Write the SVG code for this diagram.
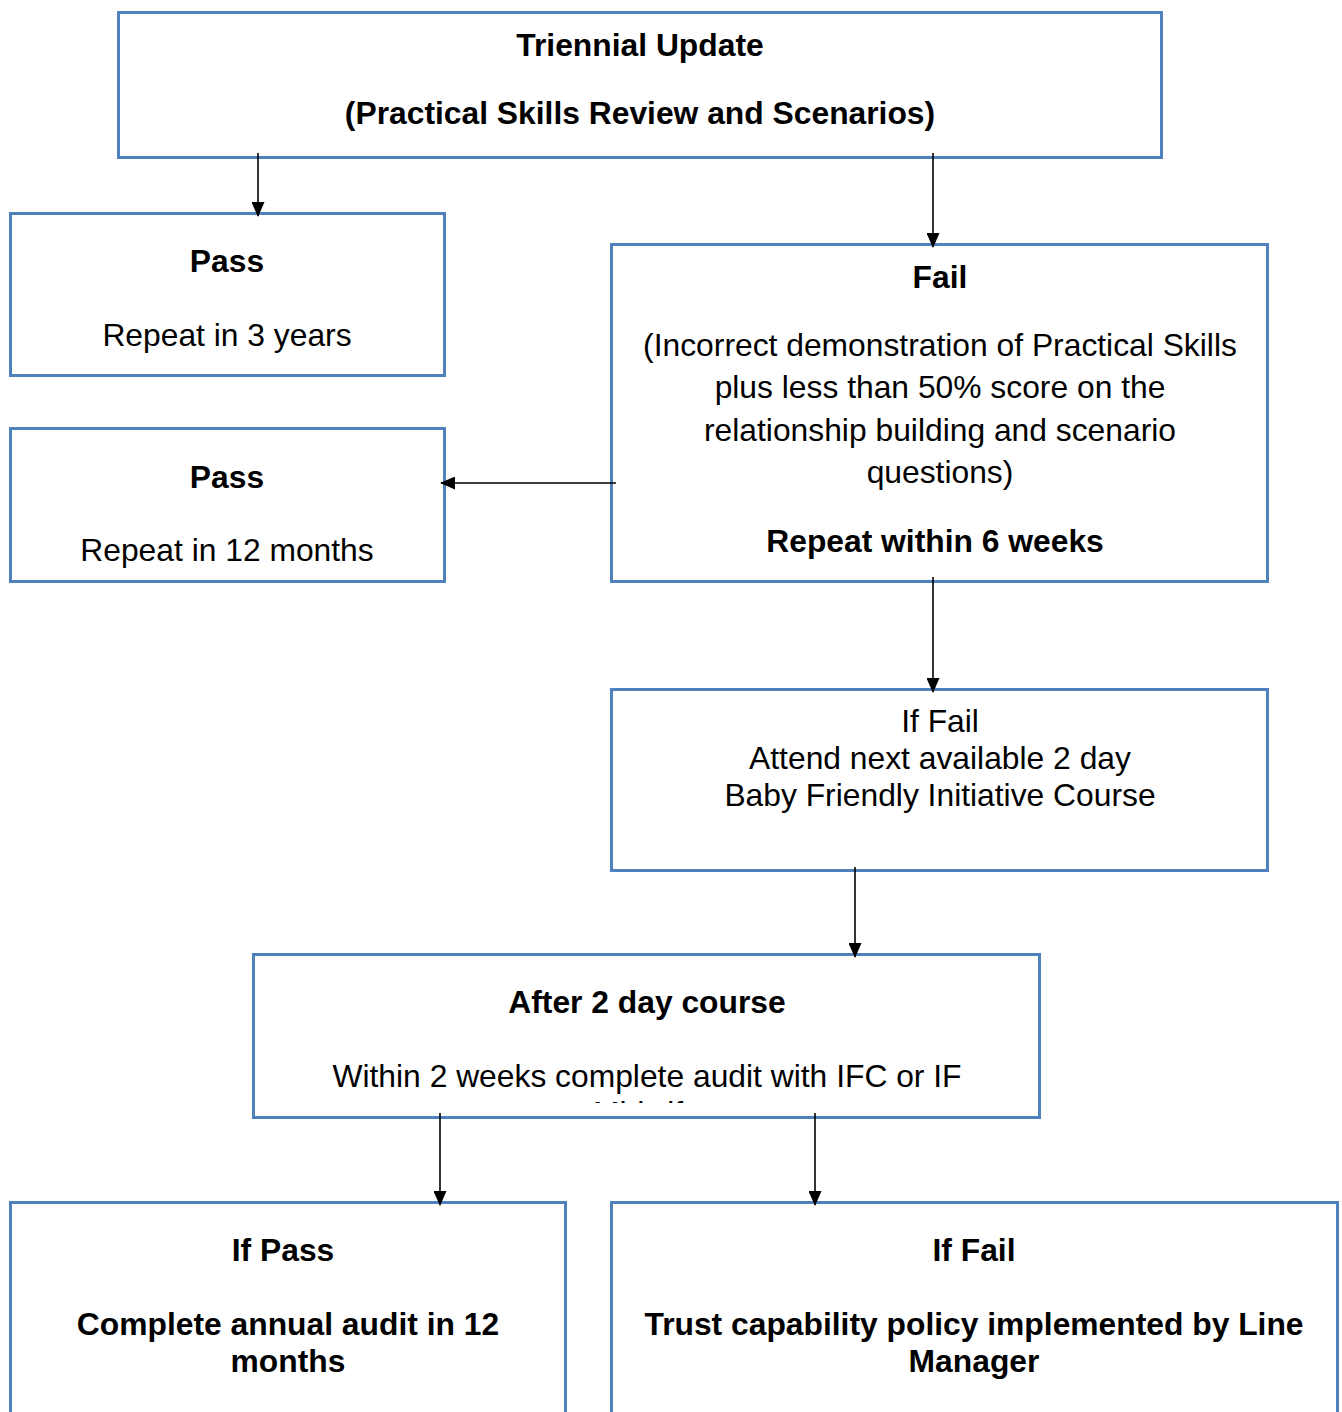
<svg xmlns="http://www.w3.org/2000/svg" width="1342" height="1412" viewBox="0 0 1342 1412">
<style>
.box{fill:#fff;stroke:#4F81BD;stroke-width:3}
text{font-family:"Liberation Sans",Arial,sans-serif;font-size:31.8px;fill:#000;text-anchor:middle}
.b{font-weight:bold}
.conn{stroke:#000;stroke-width:1.6;fill:none;marker-end:url(#ah)}
</style>
<defs>
<marker id="ah" markerWidth="15" markerHeight="13" refX="14" refY="6.5" orient="auto" markerUnits="userSpaceOnUse" viewBox="0 0 15 13">
<path d="M0,0 L15,6.5 L0,13 Z" fill="#000"/>
</marker>
<clipPath id="clipAfter"><rect x="253" y="954" width="786" height="149"/></clipPath>
</defs>
<rect width="1342" height="1412" fill="#fff"/>
<g id="n-triennial">
<rect class="box" x="118.5" y="12.5" width="1043" height="145"/>
<text class="b" x="640" y="56">Triennial Update</text>
<text class="b" x="640" y="124">(Practical Skills Review and Scenarios)</text>
</g>
<g id="n-pass3">
<rect class="box" x="10.5" y="213.5" width="434" height="162"/>
<text class="b" x="227" y="272">Pass</text>
<text x="227" y="346">Repeat in 3 years</text>
</g>
<g id="n-pass12">
<rect class="box" x="10.5" y="428.5" width="434" height="153"/>
<text class="b" x="227" y="488">Pass</text>
<text x="227" y="561">Repeat in 12 months</text>
</g>
<g id="n-fail">
<rect class="box" x="611.5" y="244.5" width="656" height="337"/>
<text class="b" x="940" y="288">Fail</text>
<text x="940" y="356">(Incorrect demonstration of Practical Skills</text>
<text x="940" y="398">plus less than 50% score on the</text>
<text x="940" y="441">relationship building and scenario</text>
<text x="940" y="483">questions)</text>
<text class="b" x="935" y="552">Repeat within 6 weeks</text>
</g>
<g id="n-iffail">
<rect class="box" x="611.5" y="689.5" width="656" height="181"/>
<text x="940" y="732">If Fail</text>
<text x="940" y="769">Attend next available 2 day</text>
<text x="940" y="806">Baby Friendly Initiative Course</text>
</g>
<g id="n-after">
<rect class="box" x="253.5" y="954.5" width="786" height="163"/>
<text class="b" x="647" y="1013">After 2 day course</text>
<g clip-path="url(#clipAfter)">
<text x="647" y="1087">Within 2 weeks complete audit with IFC or IF</text>
<text x="647" y="1124">Midwife</text>
</g>
</g>
<g id="n-ifpass">
<rect class="box" x="10.5" y="1202.5" width="555" height="240"/>
<text class="b" x="283" y="1261">If Pass</text>
<text class="b" x="288" y="1335">Complete annual audit in 12</text>
<text class="b" x="288" y="1372">months</text>
</g>
<g id="n-capability">
<rect class="box" x="611.5" y="1202.5" width="726" height="240"/>
<text class="b" x="974" y="1261">If Fail</text>
<text class="b" x="974" y="1335">Trust capability policy implemented by Line</text>
<text class="b" x="974" y="1372">Manager</text>
</g>
<g id="connectors">
<line class="conn" x1="258" y1="153" x2="258" y2="216"/>
<line class="conn" x1="933" y1="153" x2="933" y2="247"/>
<line class="conn" x1="616" y1="483" x2="441" y2="483"/>
<line class="conn" x1="933" y1="577" x2="933" y2="692"/>
<line class="conn" x1="855" y1="867" x2="855" y2="957"/>
<line class="conn" x1="440" y1="1113" x2="440" y2="1205"/>
<line class="conn" x1="815" y1="1113" x2="815" y2="1205"/>
</g>
</svg>
